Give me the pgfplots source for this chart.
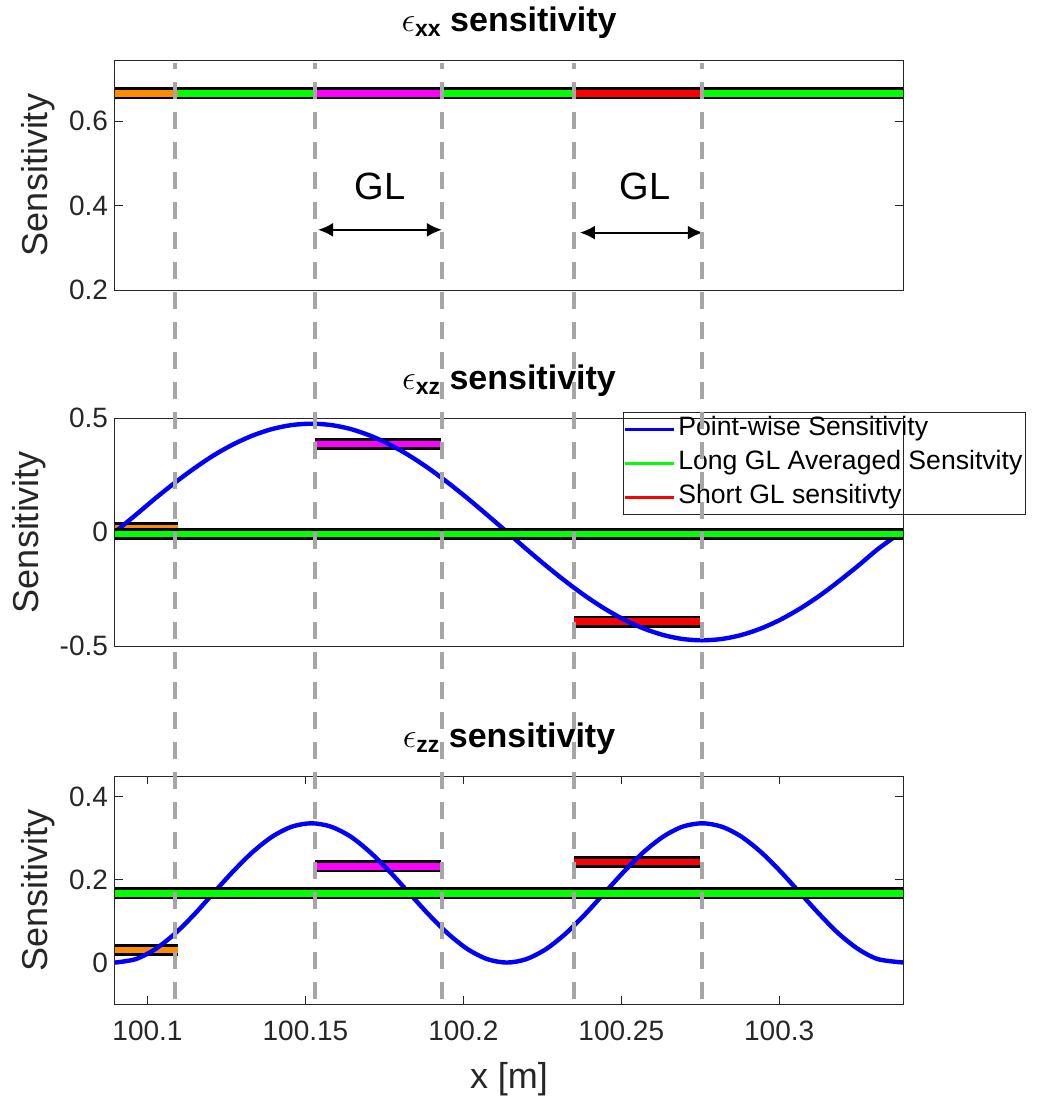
\documentclass[border=0pt]{standalone}
\usepackage{fontspec}
\setmainfont{Liberation Sans}
\usepackage{pgfplots}
\usepackage{pgfplotstable}
\pgfplotsset{compat=1.18}
\usetikzlibrary{arrows.meta}
\definecolor{axgray}{RGB}{38,38,38}
\definecolor{dashgray}{RGB}{166,166,166}
\definecolor{morange}{RGB}{255,140,0}
\definecolor{mmag}{RGB}{255,0,255}
\definecolor{mgreen}{RGB}{0,255,0}
\definecolor{mred}{RGB}{255,0,0}
\definecolor{mblue}{RGB}{0,0,255}

% point-wise sensitivity curves
\pgfplotstableread{
x        xz       zz
100.0897  0.0000  0.0000
100.0962  0.0743  0.0082
100.1024  0.1468  0.0321
100.1086  0.2156  0.0693
100.1148  0.2792  0.1161
100.1209  0.3359  0.1680
100.1271  0.3843  0.2199
100.1333  0.4232  0.2667
100.1395  0.4518  0.3039
100.1457  0.4692  0.3278
100.1519  0.4750  0.3360
100.1581  0.4692  0.3278
100.1643  0.4518  0.3039
100.1704  0.4232  0.2667
100.1766  0.3843  0.2199
100.1828  0.3359  0.1680
100.1890  0.2792  0.1161
100.1952  0.2156  0.0693
100.2014  0.1468  0.0321
100.2076  0.0743  0.0082
100.2138  0.0000  0.0000
100.2199 -0.0743  0.0082
100.2261 -0.1468  0.0321
100.2323 -0.2156  0.0693
100.2385 -0.2792  0.1161
100.2447 -0.3359  0.1680
100.2509 -0.3843  0.2199
100.2571 -0.4232  0.2667
100.2633 -0.4518  0.3039
100.2694 -0.4692  0.3278
100.2756 -0.4750  0.3360
100.2818 -0.4692  0.3278
100.2880 -0.4518  0.3039
100.2942 -0.4232  0.2667
100.3004 -0.3843  0.2199
100.3066 -0.3359  0.1680
100.3128 -0.2792  0.1161
100.3189 -0.2156  0.0693
100.3251 -0.1468  0.0321
100.3313 -0.0743  0.0082
100.3392  0.0050  0.0002
}\curves

\pgfplotsset{
  sens/.style={
    scale only axis, width=394pt,
    xmin=100.0897, xmax=100.3392,
    axis line style={axgray, line width=0.5pt},
    tick style={axgray, line width=0.5pt},
    tick align=inside,
    major tick length=4pt,
    ticklabel style={font=\fontsize{14}{16}\selectfont, text=axgray},
    /pgf/number format/assume math mode=true,
    label style={font=\fontsize{18}{21}\selectfont, text=axgray},
    title style={font=\fontsize{17}{19}\selectfont\bfseries, text=black,
                 at={(0.5,1)}, anchor=base, yshift=8.5pt},
    ylabel={Sensitivity},
  },
  blk/.style={black, line width=6pt, line cap=butt, forget plot},
  col/.style={#1, line width=3.2pt, line cap=butt, forget plot},
  pw/.style={mblue, line width=2.2pt, smooth, forget plot},
}

\begin{document}
\begin{tikzpicture}
\path[use as bounding box] (0,0) rectangle (521.5pt,-549.5pt);

% ---------------- top: eps_xx ----------------
\begin{axis}[sens, at={(57.5pt,-145pt)}, anchor=south west, height=115pt,
  ymin=0.2, ymax=0.745, ytick={0.2,0.4,0.6}, yticklabels={0.2,0.4,0.6},
  xtick=\empty,
  title={$\epsilon$\raisebox{-2.5pt}{\fontsize{11.5}{12}\selectfont xx} sensitivity}]
\addplot[blk] coordinates {(100.0897,0.666) (100.3392,0.666)};
\addplot[col=mgreen] coordinates {(100.0897,0.666) (100.3392,0.666)};
\addplot[col=morange] coordinates {(100.0897,0.666) (100.1095,0.666)};
\addplot[col=mmag] coordinates {(100.1530,0.666) (100.1930,0.666)};
\addplot[col=mred] coordinates {(100.2350,0.666) (100.2750,0.666)};
\addplot[black, line width=1pt, forget plot,
  {Latex[length=7.5pt,width=7pt]}-{Latex[length=7.5pt,width=7pt]}]
  coordinates {(100.1540,0.3426) (100.1932,0.3426)};
\addplot[black, line width=1pt, forget plot,
  {Latex[length=7.5pt,width=7pt]}-{Latex[length=7.5pt,width=7pt]}]
  coordinates {(100.2369,0.336) (100.2758,0.336)};
\node[font=\fontsize{19}{22}\selectfont] at (axis cs:100.1736,0.445) {GL};
\node[font=\fontsize{19}{22}\selectfont] at (axis cs:100.2575,0.445) {GL};
\end{axis}

% ---------------- middle: eps_xz ----------------
\begin{axis}[sens, at={(57.5pt,-323pt)}, anchor=south west, height=114pt,
  ymin=-0.5, ymax=0.5, ytick={-0.5,0,0.5}, yticklabels={-0.5,0,0.5},
  xtick=\empty,
  title={$\epsilon$\raisebox{-2.5pt}{\fontsize{11.5}{12}\selectfont xz} sensitivity},
  legend cell align=left,
  legend image code/.code={\draw[#1] (0pt,0pt) -- (24.5pt,0pt);},
  legend style={at={(0.6447,1.027)}, anchor=north west, draw=axgray,
    line width=0.5pt, fill=none, inner sep=0pt, row sep=0pt,
    font=\fontsize{13.3}{15}\selectfont, text=black,
    nodes={inner xsep=1.4pt, inner ysep=2.2pt, text height=9.6pt, text depth=3pt}}]
\addlegendimage{mblue, line width=1.5pt}
\addlegendentry{Point-wise Sensitivity}
\addlegendimage{mgreen, line width=1.5pt}
\addlegendentry{Long GL Averaged Sensitvity}
\addlegendimage{mred, line width=1.5pt}
\addlegendentry{Short GL sensitivty}
\addplot[blk] coordinates {(100.0897,0.018) (100.1095,0.018)};
\addplot[col=morange] coordinates {(100.0897,0.018) (100.1095,0.018)};
\addplot[blk] coordinates {(100.1530,0.387) (100.1930,0.387)};
\addplot[col=mmag] coordinates {(100.1530,0.387) (100.1930,0.387)};
\addplot[blk] coordinates {(100.2350,-0.393) (100.2750,-0.393)};
\addplot[col=mred] coordinates {(100.2350,-0.393) (100.2750,-0.393)};
\addplot[pw] table[x=x, y=xz] {\curves};
\addplot[blk] coordinates {(100.0897,-0.01) (100.3392,-0.01)};
\addplot[col=mgreen] coordinates {(100.0897,-0.01) (100.3392,-0.01)};
\end{axis}

% ---------------- bottom: eps_zz ----------------
\begin{axis}[sens, at={(57.5pt,-502pt)}, anchor=south west, height=114pt,
  ymin=-0.1, ymax=0.45, ytick={0,0.2,0.4}, yticklabels={0,0.2,0.4},
  xtick={100.1,100.15,100.2,100.25,100.3},
  xticklabels={100.1,100.15,100.2,100.25,100.3},
  xticklabel style={yshift=-5pt},
  xlabel={x [m]}, xlabel style={yshift=-4pt},
  clip=false,
  title={$\epsilon$\raisebox{-2.5pt}{\fontsize{11.5}{12}\selectfont zz} sensitivity}]
\addplot[blk] coordinates {(100.0897,0.031) (100.1095,0.031)};
\addplot[col=morange] coordinates {(100.0897,0.031) (100.1095,0.031)};
\addplot[blk] coordinates {(100.1530,0.232) (100.1930,0.232)};
\addplot[col=mmag] coordinates {(100.1530,0.232) (100.1930,0.232)};
\addplot[blk] coordinates {(100.2350,0.243) (100.2750,0.243)};
\addplot[col=mred] coordinates {(100.2350,0.243) (100.2750,0.243)};
\addplot[pw] table[x=x, y=zz] {\curves};
\addplot[blk] coordinates {(100.0897,0.167) (100.3392,0.167)};
\addplot[col=mgreen] coordinates {(100.0897,0.167) (100.3392,0.167)};
% gauge-length boundaries, running through all three panels
\foreach \gx in {100.1087,100.1530,100.1932,100.2350,100.2755}{
  \edef\tmp{\noexpand\addplot[dashgray, line width=2pt, forget plot,
    dash pattern=on 8.5pt off 6.5pt]
    coordinates {(\gx,-0.088) (\gx,2.17)};}\tmp
}
\end{axis}
\end{tikzpicture}
\end{document}
